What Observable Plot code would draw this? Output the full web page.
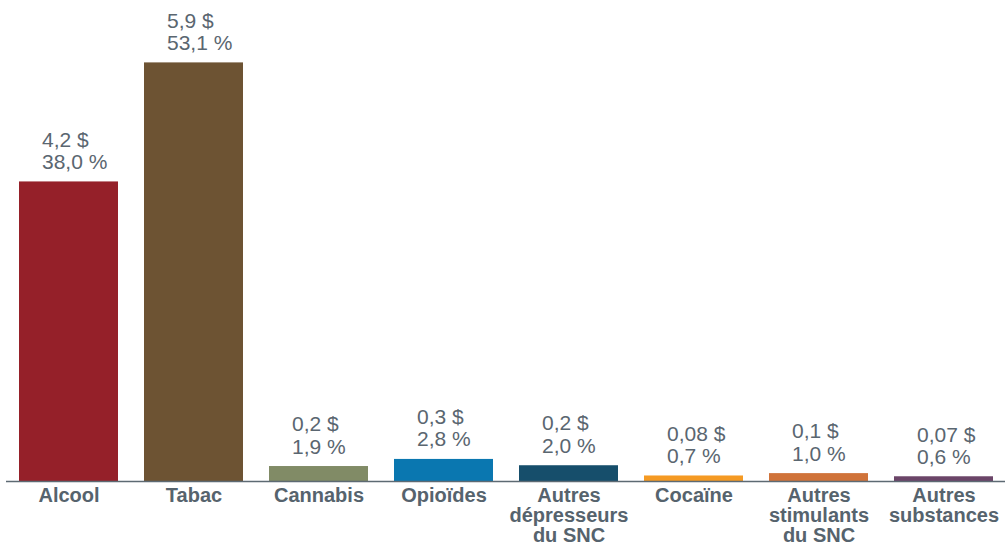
<!DOCTYPE html>
<html lang="fr">
<head>
<meta charset="utf-8">
<script src="https://cdn.jsdelivr.net/npm/d3@7"></script>
<script src="https://cdn.jsdelivr.net/npm/@observablehq/plot@0.6"></script>
<style>
  html, body { margin: 0; padding: 0; background: #ffffff; }
  #chart svg { display: block; }
</style>
</head>
<body>
<div id="chart"></div>
<script>
// Coûts par substance : montant (milliards $) et part du total (%)
const categories = [
  "Alcool", "Tabac", "Cannabis", "Opioïdes",
  "Autres\ndépresseurs\ndu SNC", "Cocaïne",
  "Autres\nstimulants\ndu SNC", "Autres\nsubstances"
];
const costs = ["4,2", "5,9", "0,2", "0,3", "0,2", "0,08", "0,1", "0,07"];
const shares = [38.0, 53.1, 1.9, 2.8, 2.0, 0.7, 1.0, 0.6];
const colors = ["#952029", "#6d5333", "#818b66", "#0a77b0", "#164e6b", "#f59a23", "#d0733a", "#6b4568"];

const fmtPct = v => v.toFixed(1).replace(".", ",") + " %";

const data = categories.map((c, i) => ({
  category: c,
  share: shares[i],
  label: `${costs[i]} $\n${fmtPct(shares[i])}`,
  color: colors[i]
}));

const textColor = "#56636d";

const chart = Plot.plot({
  width: 1005,
  height: 546,
  marginLeft: 6,
  marginRight: 0,
  marginTop: 8,
  marginBottom: 65,
  style: { fontFamily: "'Liberation Sans', Arial, Helvetica, sans-serif", background: "#ffffff" },
  x: { domain: categories, paddingInner: 0.208, paddingOuter: 0.1, axis: null },
  y: { domain: [0, 60], axis: null },
  marks: [
    Plot.barY(data, { x: "category", y: "share", fill: "color" }),
    Plot.ruleY([0], { stroke: "#5d6a73", strokeWidth: 1.5 }),
    // Étiquettes de valeur au-dessus des barres
    Plot.text(data, {
      x: "category",
      y: "share",
      text: "label",
      textAnchor: "start",
      lineAnchor: "bottom",
      lineHeight: 1.06,
      dx: -27,
      dy: -13,
      fontSize: 21,
      fill: "#5a6670"
    }),
    // Noms des catégories sous l'axe
    Plot.text(data, {
      x: "category",
      y: 0,
      text: "category",
      textAnchor: "middle",
      lineAnchor: "top",
      lineHeight: 1.0,
      dy: 6,
      fontSize: 20,
      fontWeight: "bold",
      fill: textColor
    })
  ]
});

document.getElementById("chart").appendChild(chart);
</script>
</body>
</html>
